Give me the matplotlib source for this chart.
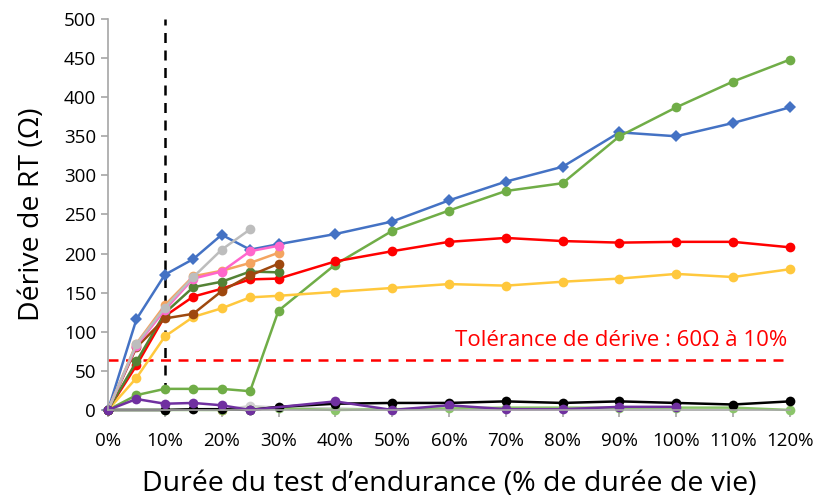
import matplotlib
matplotlib.use("Agg")
import matplotlib.pyplot as plt
from matplotlib.ticker import FixedLocator

plt.rcParams['font.family'] = ['Open Sans', 'DejaVu Sans']

# Durée du test (% de durée de vie)
x_long = [0, 5, 10, 15, 20, 25, 30, 40, 50, 60, 70, 80, 90, 100, 110, 120]
x_short = [0, 5, 10, 15, 20, 25, 30]

# Dérive de RT (Ω) - séries longues
blue_vals = [0, 116, 173, 193, 224, 205, 212, 225, 241, 268, 292, 311, 355, 350, 367, 387]
green_vals = [0, 19, 27, 27, 27, 24, 127, 186, 229, 255, 280, 290, 350, 387, 420, 448]
red_vals = [0, 57, 120, 145, 155, 167, 168, 190, 203, 215, 220, 216, 214, 215, 215, 208]
yellow_vals = [0, 41, 94, 119, 130, 144, 146, 151, 156, 161, 159, 164, 168, 174, 170, 180]

# séries courtes (arrêt à 25-30 %)
dkgreen_vals = [0, 62, 124, 157, 164, 177, 176]
brown_vals = [0, 80, 117, 123, 152, 172, 187]
orange_vals = [0, 85, 134, 171, 178, 188, 201]
pink_vals = [0, 82, 128, 168, 177, 203, 210]
gray_vals = [0, 84, 131, 170, 205, 231]

# séries proches de zéro
black_x = [0, 10, 15, 20, 25, 30, 40, 50, 60, 70, 80, 90, 100, 110, 120]
black_vals = [0, 0, 1, 1, 0, 4, 8, 9, 9, 11, 9, 11, 9, 7, 11]
lgreen_x = [0, 10, 20, 30, 40, 50, 60, 70, 80, 90, 100, 110, 120]
lgreen_vals = [0, 0, 0, 2, 0, 1, 2, 3, 3, 3, 3, 3, 0]
lgray_x = [20, 25, 30, 40, 50]
lgray_vals = [0, 5, 3, 2, 0]
orange0_x = [20]
orange0_vals = [0]
purple_x = [0, 5, 10, 15, 20, 25, 40, 50, 60, 70, 80, 90, 100]
purple_vals = [0, 14, 8, 9, 6, 0, 11, 0, 6, 1, 1, 4, 4]

tolerance = 64
x_ticks = list(range(0, 121, 10))
tick_labels = [f"{t}%" for t in x_ticks]

fig = plt.figure(figsize=(8.16, 4.99), dpi=100)
ax = fig.add_axes([0.1324, 0.1784, 0.8356, 0.7836])

lw = 1.8
ms = 7

def series(x, y, color, marker='o', size=ms):
    ax.plot(x, y, color=color, linewidth=lw, marker=marker, markersize=size,
            markeredgewidth=0, clip_on=False)

series(x_long, blue_vals, '#4472C4', marker='D', size=5.8)
series(x_long, green_vals, '#70AD47')
series(x_long, red_vals, '#FF0000')
series(x_long, yellow_vals, '#FFC83D')
series(x_short, dkgreen_vals, '#548235')
series(x_short, brown_vals, '#9E480E')
series(x_short, orange_vals, '#F4A460')
series(x_short, pink_vals, '#FF66CC')
series(x_short[:6], gray_vals, '#BDBDBD')
series(lgray_x, lgray_vals, '#D0D0D0')
series(orange0_x, orange0_vals, '#ED7D31')
series(lgreen_x, lgreen_vals, '#8BC56A')
series(black_x, black_vals, '#000000')
series(purple_x, purple_vals, '#7030A0')

# seuil de tolérance et limite à 10 %
ax.axhline(tolerance, color='#FF0000', linestyle=(0, (4, 3)), linewidth=1.8, zorder=1)
ax.text(119.6, tolerance + 11, "Tolérance de dérive : 60Ω à 10%", color='#FF0000',
        fontsize=16, ha='right', va='bottom')
ax.plot([10, 10], [0, 500], color='black', linestyle=(0, (4, 3)), linewidth=1.8,
        zorder=1, clip_on=False)

ax.set_xlim(0, 120)
ax.set_ylim(0, 500)
ax.xaxis.set_major_locator(FixedLocator(x_ticks))
ax.set_xticklabels(tick_labels)
ax.set_yticks(range(0, 501, 50))

for side in ('top', 'right'):
    ax.spines[side].set_visible(False)
for side in ('left', 'bottom'):
    ax.spines[side].set_color('#A6A6A6')
    ax.spines[side].set_linewidth(1.2)

ax.tick_params(axis='both', colors='#A6A6A6', labelcolor='black', labelsize=13.5,
               length=5, width=1.2, direction='out')
ax.tick_params(axis='x', pad=11)

ax.set_xlabel("Durée du test d’endurance (% de durée de vie)", fontsize=20.5, labelpad=14)
ax.set_ylabel("Dérive de RT (Ω)", fontsize=20.5, labelpad=13)

fig.savefig("out.png", dpi=100)
